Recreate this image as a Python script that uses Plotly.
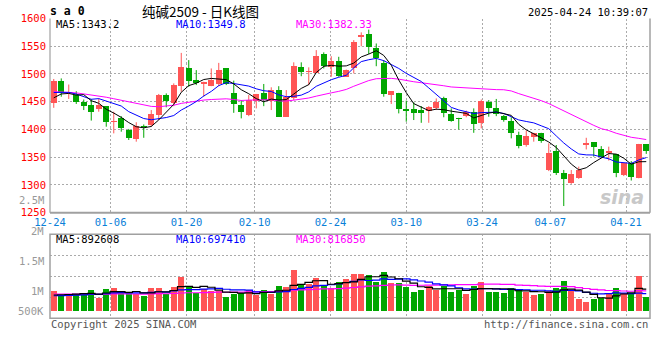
import plotly.graph_objects as go
import numpy as np

# ---------------- data ----------------
dates = ["12-24", "12-25", "12-26", "12-27", "12-30", "12-31",
         "01-02", "01-03", "01-06", "01-07", "01-08", "01-09", "01-10",
         "01-13", "01-14", "01-15", "01-16", "01-17", "01-20", "01-21",
         "01-22", "01-23", "01-24", "01-27",
         "02-05", "02-06", "02-07", "02-10", "02-11", "02-12", "02-13", "02-14",
         "02-17", "02-18", "02-19", "02-20", "02-21", "02-24", "02-25", "02-26",
         "02-27", "02-28",
         "03-03", "03-04", "03-05", "03-06", "03-07", "03-10", "03-11", "03-12",
         "03-13", "03-14", "03-17", "03-18", "03-19", "03-20", "03-21", "03-24",
         "03-25", "03-26", "03-27", "03-28", "03-31",
         "04-01", "04-02", "04-03", "04-07", "04-08", "04-09", "04-10", "04-11",
         "04-14", "04-15", "04-16", "04-17", "04-18", "04-21", "04-22", "04-23",
         "04-24"]

opens = [1448, 1487, 1466, 1462, 1450, 1444, 1437, 1442, 1414, 1420,
         1399, 1383, 1406, 1408, 1426, 1462, 1448, 1479, 1511, 1490,
         1482, 1478, 1482, 1510, 1466, 1444, 1426, 1452, 1466, 1452,
         1471, 1423, 1456, 1512, 1503, 1502, 1536, 1513, 1523, 1495,
         1511, 1566, 1572, 1546, 1520, 1463, 1466, 1437, 1437, 1435,
         1433, 1438, 1456, 1428, 1421, 1424, 1432, 1411, 1450, 1438,
         1424, 1416, 1390, 1372, 1387, 1393, 1327, 1361, 1322, 1303,
         1313, 1372, 1377, 1365, 1358, 1355, 1318, 1339, 1313, 1373]
highs = [1491, 1492, 1481, 1469, 1454, 1455, 1456, 1442, 1432, 1424,
         1401, 1413, 1409, 1435, 1464, 1465, 1483, 1538, 1525, 1507,
         1486, 1510, 1520, 1510, 1488, 1453, 1462, 1464, 1482, 1476,
         1478, 1471, 1521, 1521, 1512, 1543, 1539, 1532, 1531, 1508,
         1561, 1575, 1580, 1555, 1525, 1469, 1466, 1452, 1449, 1442,
         1442, 1456, 1459, 1438, 1421, 1434, 1438, 1454, 1453, 1455,
         1426, 1422, 1396, 1398, 1394, 1394, 1375, 1372, 1327, 1327,
         1333, 1385, 1377, 1370, 1369, 1355, 1339, 1343, 1374, 1373]
lows = [1439, 1459, 1455, 1446, 1435, 1416, 1432, 1405, 1393, 1396,
        1381, 1378, 1385, 1405, 1417, 1440, 1442, 1468, 1477, 1480,
        1459, 1478, 1478, 1480, 1430, 1420, 1424, 1438, 1442, 1435,
        1423, 1423, 1453, 1496, 1480, 1502, 1510, 1495, 1495, 1495,
        1501, 1550, 1536, 1514, 1459, 1446, 1429, 1414, 1417, 1412,
        1412, 1435, 1422, 1414, 1400, 1422, 1394, 1402, 1423, 1424,
        1414, 1384, 1366, 1369, 1378, 1376, 1325, 1318, 1262, 1302,
        1311, 1364, 1351, 1349, 1344, 1314, 1316, 1308, 1312, 1356]
closes = [1487, 1467, 1468, 1450, 1442, 1432, 1444, 1414, 1416, 1403,
          1385, 1407, 1404, 1428, 1462, 1452, 1480, 1513, 1488, 1484,
          1485, 1490, 1508, 1482, 1446, 1432, 1454, 1464, 1453, 1471,
          1423, 1458, 1514, 1504, 1505, 1532, 1514, 1523, 1497, 1507,
          1557, 1570, 1548, 1528, 1464, 1469, 1437, 1434, 1429, 1429,
          1441, 1450, 1429, 1416, 1418, 1432, 1409, 1451, 1438, 1428,
          1417, 1393, 1370, 1388, 1393, 1379, 1357, 1321, 1311, 1320,
          1327, 1376, 1368, 1351, 1361, 1322, 1339, 1314, 1373, 1362]
volumes = [812000, 650000, 678000, 678000, 719000, 853000, 516000, 893000, 934000, 719000,
           719000, 690000, 617000, 942000, 942000, 678000, 983000, 1389000, 1015000, 719000,
           881000, 820000, 820000, 581000, 678000, 731000, 861000, 658000, 861000, 698000,
           1015000, 983000, 1665000, 1056000, 1084000, 1352000, 1015000, 922000, 1190000, 1299000,
           1502000, 1502000, 1462000, 1190000, 1596000, 1149000, 1149000, 987000, 784000, 853000,
           1015000, 853000, 1015000, 784000, 853000, 702000, 1015000, 1190000, 784000, 784000,
           743000, 946000, 853000, 759000, 650000, 702000, 800000, 934000, 1218000, 800000,
           487000, 374000, 487000, 540000, 743000, 946000, 731000, 739000, 1433000, 581000]

# sessions before the visible window (only feed the moving averages)
prior_closes = [1480, 1485, 1492, 1495, 1490, 1486, 1493, 1498, 1490, 1484,
                1488, 1492, 1487, 1480, 1430, 1420, 1415, 1425, 1428, 1424,
                1460, 1472, 1480, 1485, 1484, 1432, 1463, 1465, 1438]
prior_volumes = [760000, 700000, 740000, 690000, 810000, 720000, 680000, 750000, 700000, 730000,
                 760000, 690000, 720000, 740000, 700000, 710000, 760000, 730000, 700000, 710000,
                 580000, 600000, 620000, 570000, 580000, 600000, 630000, 590000, 618000]

tick_dates = ["12-24", "01-06", "01-20", "02-10", "02-24", "03-10", "03-24", "04-07", "04-21"]
price_ticks = [1250, 1300, 1350, 1400, 1450, 1500, 1550, 1600]
vol_tick_labels = ["2.5M", "2M", "1.5M", "1M", "500K"]
price_ma_text = ["MA5:1343.2", "MA10:1349.8", "MA30:1382.33"]
vol_ma_text = ["MA5:892608", "MA10:697410", "MA30:816850"]

# ---------------- styling / layout constants ----------------
W, H = 660, 360
L, R = 50, 650
UP, DOWN = "#ff5555", "#00a600"
MONO = "DejaVu Sans Mono"
GRID = "#aaaaaa"
GRID_STEP = 7.58 / 7.5   # spacing of date grid lines relative to candle spacing


def px_x(p):
    return (p - L) / (R - L)


def px_y(p):
    return 1 - p / H


n = len(closes)
idx = np.arange(n)
o = np.array(opens, float)
c = np.array(closes, float)
hi = np.array(highs, float)
lo = np.array(lows, float)
up = c >= o
colors = [UP if u else DOWN for u in up]


def moving_avg(prior, vals, k):
    full = np.array(list(prior) + list(vals), float)
    off = len(prior)
    return [full[off + i - k + 1: off + i + 1].mean() for i in range(len(vals))]


fig = go.Figure()

# candle bodies
fig.add_trace(go.Bar(x=idx, y=np.maximum(np.abs(c - o), 0.9), base=np.minimum(o, c),
                     width=0.8, marker=dict(color=colors, line=dict(width=0)),
                     xaxis="x", yaxis="y", hoverinfo="skip"))
# wicks
for flag, col in [(True, UP), (False, DOWN)]:
    xs, ys = [], []
    for i in idx[up == flag]:
        xs += [i, i, None]
        ys += [lo[i], hi[i], None]
    fig.add_trace(go.Scatter(x=xs, y=ys, mode="lines", line=dict(color=col, width=1),
                             xaxis="x", yaxis="y", hoverinfo="skip"))

# price moving averages
for k, col in [(30, "#ff00ff"), (10, "#0000ff"), (5, "#000000")]:
    fig.add_trace(go.Scatter(x=idx, y=moving_avg(prior_closes, closes, k), mode="lines",
                             line=dict(color=col, width=1), xaxis="x", yaxis="y",
                             hoverinfo="skip"))

# volume bars
fig.add_trace(go.Bar(x=idx, y=volumes, width=0.8, marker=dict(color=colors, line=dict(width=0)),
                     xaxis="x2", yaxis="y2", hoverinfo="skip"))
for k, col in [(30, "#ff00ff"), (10, "#0000ff"), (5, "#000000")]:
    fig.add_trace(go.Scatter(x=idx, y=moving_avg(prior_volumes, volumes, k), mode="lines",
                             line=dict(color=col, width=1.2, shape="hvh"),
                             xaxis="x2", yaxis="y2", hoverinfo="skip"))

tick_pos = [dates.index(d) * GRID_STEP - 0.5 for d in tick_dates]

# volume axis: 0 sits at px 311, 40.6K per px
vscale = 40600.0
v_lo, v_hi = -(318.3 - 311) * vscale, (311 - 234.3) * vscale
v_grid = [v_lo + (v_hi - v_lo) * q / 4 for q in (1, 2, 3)]

grid_kw = dict(showgrid=True, gridcolor=GRID, griddash="2px,2px", gridwidth=1,
               zeroline=False, showline=False, ticks="", automargin=False)

fig.update_layout(
    template="none",
    width=W, height=H, margin=dict(l=L, r=W - R, t=0, b=0, pad=0, autoexpand=False),
    paper_bgcolor="white", plot_bgcolor="white", showlegend=False, bargap=0,
    xaxis=dict(domain=[0, 1], range=[-0.5, n - 0.5], anchor="y",
               tickvals=tick_pos, ticktext=tick_dates, ticklabelstandoff=2,
               tickfont=dict(family=MONO, size=10.5, color="#0a80d8"), **grid_kw),
    yaxis=dict(domain=[px_y(212.7), px_y(18.5)], range=[1250, 1600], anchor="x",
               tickvals=price_ticks, ticklabelstandoff=3,
               tickfont=dict(family=MONO, size=10.5, color="#ff0000"), **grid_kw),
    xaxis2=dict(domain=[0, 1], range=[-0.5, n - 0.5], anchor="y2", matches="x",
                tickvals=tick_pos, showticklabels=False, **grid_kw),
    yaxis2=dict(domain=[px_y(318.3), px_y(234.3)], range=[v_lo, v_hi], anchor="x2",
                tickvals=v_grid, showticklabels=False, **grid_kw),
)

# panel borders
BORDER = "#a0a0a0"
shapes = []
shapes.append(dict(type="line", xref="paper", yref="paper", x0=0, x1=0,
                   y0=px_y(212.7), y1=px_y(18.5), line=dict(color=BORDER, width=1.2)))
shapes.append(dict(type="line", xref="paper", yref="paper", x0=1, x1=1,
                   y0=px_y(212.7), y1=px_y(18.5), line=dict(color=BORDER, width=1.5)))
shapes.append(dict(type="line", xref="paper", yref="paper", x0=0, x1=1,
                   y0=px_y(212.7), y1=px_y(212.7), line=dict(color=BORDER, width=2)))
shapes.append(dict(type="rect", xref="paper", yref="paper", x0=0, x1=1,
                   y0=px_y(318.3), y1=px_y(234.3), line=dict(color=BORDER, width=1.5)))
fig.update_layout(shapes=shapes)

ann = []


def text(s, xpx, ypx, color="#000", size=10.5, anchor="left", family=MONO, **kw):
    ann.append(dict(text=s, x=px_x(xpx), y=px_y(ypx), xref="paper", yref="paper",
                    xanchor=anchor, yanchor="middle", showarrow=False,
                    font=dict(family=family, size=size, color=color, **kw)))


text("s a 0", 48, 11, size=11.5, weight="bold")
text("纯碱2509 - 日K线图", 200, 10.5, size=13.5, anchor="center",
     family="Noto Sans CJK SC")
text("2025-04-24 10:39:07", 650, 12, size=10.5, anchor="right")

ma_cols = ["#000000", "#0000ff", "#ff00ff"]
for s, xp, col in zip(price_ma_text, [54, 174, 294], ma_cols):
    text(s, xp, 24.5, color=col)
for s, xp, col in zip(vol_ma_text, [54, 174, 294], ma_cols):
    text(s, xp, 238.5, color=col)

for s, yp in zip(vol_tick_labels, [200, 231, 261, 291, 311]):
    text(s, 46, yp, color="#999999", anchor="right")

text("Copyright 2025 SINA.COM", 49, 323.5, color="#555555")
text("http://finance.sina.com.cn", 650, 323.5, color="#555555", anchor="right")
text("sina", 622, 197, color="#c8c8c8", size=19, anchor="center",
     family="DejaVu Sans", weight="bold", style="italic")

fig.update_layout(annotations=ann)

# the page's default 8px body margin would shift the whole chart
fig.write_html("out.html", config={"displayModeBar": False, "staticPlot": True},
               post_script="document.body.style.margin='0';")
